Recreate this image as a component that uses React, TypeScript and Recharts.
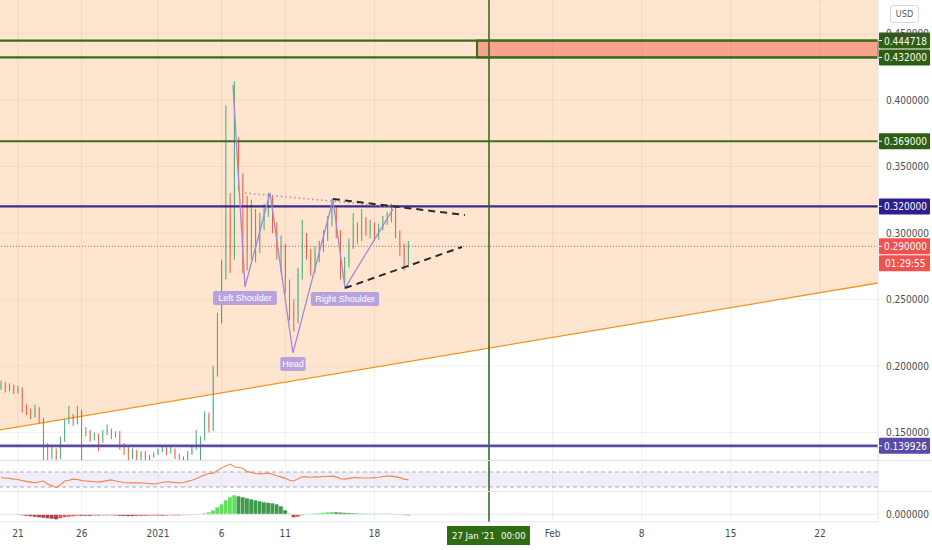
import {
  ComposedChart,
  Bar,
  Line,
  Area,
  XAxis,
  YAxis,
  CartesianGrid,
  ReferenceLine,
  ReferenceArea,
  ReferenceDot,
  Cell,
} from "recharts";

// time axis is in days counted from 21 Dec 2020 00:00, candles are 8h
const CANDLE_START = -4 / 3;
const CANDLE_STEP = 1 / 3;

const opens = [
  0.184, 0.186, 0.183, 0.185, 0.181, 0.183, 0.168, 0.166, 0.163, 0.168,
  0.16, 0.14, 0.133, 0.137, 0.131, 0.145, 0.158, 0.162, 0.158, 0.166,
  0.15, 0.151, 0.146, 0.148, 0.144, 0.15, 0.152, 0.148, 0.15, 0.14,
  0.138, 0.134, 0.136, 0.131, 0.135, 0.131, 0.132, 0.134, 0.137, 0.138,
  0.136, 0.137, 0.133, 0.131, 0.13, 0.134, 0.139, 0.142, 0.146, 0.163,
  0.153, 0.196, 0.235, 0.27, 0.315, 0.285, 0.37, 0.34, 0.322, 0.285,
  0.31, 0.292, 0.31, 0.318, 0.325, 0.305, 0.285, 0.29, 0.262, 0.24,
  0.235, 0.27, 0.295, 0.285, 0.275, 0.285, 0.29, 0.298, 0.31, 0.318,
  0.3, 0.272, 0.278, 0.292, 0.305, 0.298, 0.31, 0.302, 0.306, 0.298,
  0.305, 0.31, 0.312, 0.318, 0.3, 0.29, 0.276,
];
const highs = [
  0.189, 0.188, 0.187, 0.186, 0.185, 0.184, 0.171, 0.168, 0.171, 0.169,
  0.161, 0.142, 0.14, 0.138, 0.147, 0.16, 0.17, 0.164, 0.17, 0.167,
  0.154, 0.152, 0.15, 0.149, 0.152, 0.156, 0.153, 0.151, 0.151, 0.142,
  0.139, 0.138, 0.137, 0.136, 0.136, 0.133, 0.135, 0.138, 0.14, 0.139,
  0.139, 0.138, 0.134, 0.132, 0.136, 0.14, 0.152, 0.147, 0.166, 0.165,
  0.2, 0.24, 0.28, 0.396, 0.33, 0.414, 0.372, 0.345, 0.328, 0.325,
  0.318, 0.315, 0.322, 0.33, 0.328, 0.308, 0.298, 0.292, 0.265, 0.25,
  0.274, 0.31, 0.3, 0.288, 0.29, 0.294, 0.302, 0.313, 0.326, 0.32,
  0.302, 0.282, 0.296, 0.315, 0.308, 0.318, 0.312, 0.31, 0.308, 0.307,
  0.313, 0.316, 0.322, 0.32, 0.302, 0.292, 0.294,
];
const lows = [
  0.182, 0.18, 0.181, 0.179, 0.179, 0.165, 0.163, 0.16, 0.161, 0.157,
  0.128, 0.126, 0.13, 0.126, 0.13, 0.143, 0.156, 0.155, 0.156, 0.128,
  0.147, 0.143, 0.144, 0.136, 0.142, 0.148, 0.145, 0.146, 0.137, 0.133,
  0.129, 0.13, 0.127, 0.129, 0.128, 0.129, 0.131, 0.133, 0.135, 0.133,
  0.134, 0.13, 0.128, 0.127, 0.129, 0.133, 0.137, 0.128, 0.144, 0.15,
  0.151, 0.192, 0.232, 0.265, 0.27, 0.28, 0.332, 0.27, 0.272, 0.28,
  0.278, 0.285, 0.302, 0.312, 0.3, 0.28, 0.27, 0.255, 0.234, 0.226,
  0.232, 0.265, 0.28, 0.268, 0.27, 0.278, 0.286, 0.294, 0.305, 0.296,
  0.265, 0.262, 0.274, 0.288, 0.292, 0.294, 0.298, 0.296, 0.294, 0.295,
  0.302, 0.306, 0.308, 0.296, 0.283, 0.272, 0.274,
];
const closes = [
  0.186, 0.183, 0.185, 0.181, 0.183, 0.168, 0.166, 0.163, 0.168, 0.16,
  0.14, 0.133, 0.137, 0.131, 0.145, 0.158, 0.162, 0.158, 0.166, 0.15,
  0.151, 0.146, 0.148, 0.144, 0.15, 0.152, 0.148, 0.15, 0.14, 0.138,
  0.134, 0.136, 0.131, 0.135, 0.131, 0.132, 0.134, 0.137, 0.138, 0.136,
  0.137, 0.133, 0.131, 0.13, 0.134, 0.139, 0.142, 0.146, 0.163, 0.153,
  0.196, 0.235, 0.27, 0.315, 0.285, 0.37, 0.34, 0.322, 0.285, 0.31,
  0.292, 0.31, 0.318, 0.325, 0.305, 0.285, 0.29, 0.262, 0.24, 0.235,
  0.27, 0.295, 0.285, 0.275, 0.285, 0.29, 0.298, 0.31, 0.318, 0.3,
  0.272, 0.278, 0.292, 0.305, 0.298, 0.31, 0.302, 0.306, 0.298, 0.305,
  0.31, 0.312, 0.318, 0.3, 0.29, 0.276, 0.29,
];
const rsiValues = [
  55, 54, 53, 51, 50, 47, 45, 43, 41, 44,
  46, 38, 33, 28, 36, 46, 48, 51, 50, 47,
  46, 45, 44, 43, 45, 47, 49, 46, 44, 42,
  41, 41, 41, 41, 40, 39, 38, 40, 42, 44,
  43, 42, 41, 42, 45, 48, 52, 57, 62, 66,
  67, 74, 81, 86, 91, 84, 82, 80, 71, 69,
  66, 65, 66, 67, 64, 60, 57, 53, 48, 46,
  52, 57, 57, 56, 57, 57, 58, 58, 59, 57,
  52, 51, 53, 55, 55, 54, 54, 54, 55, 56,
  58, 59, 59, 57, 55, 51, 49,
];
// histogram in thousandths
const histValues = [
  0.2, 0.1, 0, -0.3, -0.6, -1, -1.5, -2, -2.5, -3,
  -3.5, -4, -4.5, -5, -4, -3, -2.5, -2, -1.5, -1.5,
  -1.5, -1.5, -1.2, -1.2, -1, -1, -1, -1.2, -1.5, -1.6,
  -1.8, -1.8, -1.7, -1.6, -1.5, -1.3, -1.2, -1.2, -1.3, -1.2,
  -1, -1, -1, -0.9, -0.8, -0.6, -0.3, 0.3, 1, 2,
  4, 7, 10, 14, 17, 19, 18, 17, 16, 15,
  14, 13, 12, 11.5, 11, 10, 8, 4, 0.5, -3,
  -2.5, -1, 0.3, 0.5, 0.8, 1, 1.5, 2, 2.2, 2,
  1.8, 1.5, 1.2, 1, 0.8, 0.6, 0.5, 0.5, 0.5, 0.5,
  0.6, 0.6, 0.5, 0.3, -0.3, -0.8, -1,
];

const xTicks = [0, 5, 11, 16, 21, 28, 42, 49, 56, 63];
const xTickLabels = ["21", "26", "2021", "6", "11", "18", "Feb", "8", "15", "22"];
const priceTicks = [0.15, 0.2, 0.25, 0.3, 0.35, 0.4, 0.45];

const trendline = [
  { t: -1.414, trend: 0.1519 },
  { t: 67.56, trend: 0.2624 },
];
const headShoulders = [
  { t: 16.89, p: 0.4113 },
  { t: 17.83, p: 0.2594 },
  { t: 19.8, p: 0.3301 },
  { t: 21.6, p: 0.2098 },
  { t: 24.74, p: 0.3248 },
  { t: 25.69, p: 0.2586 },
  { t: 29.46, p: 0.318 },
];
const patternLabels = [
  { t: 17.83, p: 0.2511, text: "Left Shoulder" },
  { t: 21.6, p: 0.2015, text: "Head" },
  { t: 25.69, p: 0.2504, text: "Right Shoulder" },
];

const X_DOMAIN: [number, number] = [-1.414, 67.56];
const PRICE_DOMAIN: [number, number] = [0.1293, 0.4752];
const CROSSHAIR_T = 37;

const UP = "#45a877";
const DOWN = "#ee5a3f";
const GREEN = "#3d6b1e";
const GRID = "rgba(42,46,57,0.07)";
const FONT = "'Liberation Sans Narrow', 'DejaVu Sans Condensed', 'Liberation Sans', sans-serif";

const candles = closes.map((close, i) => ({
  t: CANDLE_START + i * CANDLE_STEP,
  open: opens[i],
  high: highs[i],
  low: lows[i],
  close,
  rsi: rsiValues[i],
  hist: histValues[i] / 1000,
}));

function Candle(props: any) {
  const { x, y, width, height, payload } = props;
  if (!payload) return null;
  const { open, close, high, low } = payload;
  const color = close >= open ? UP : DOWN;
  const h = Math.abs(height);
  const top = height < 0 ? y + height : y;
  const ratio = h / (high - low || 1);
  const bodyTop = top + (high - Math.max(open, close)) * ratio;
  const bodyH = Math.max(1, Math.abs(open - close) * ratio);
  const cx = x + width / 2;
  return (
    <g>
      <line x1={cx} x2={cx} y1={top} y2={top + h} stroke={color} strokeWidth={1} />
      <rect x={x} y={bodyTop} width={width} height={bodyH} fill={color} />
    </g>
  );
}

function axisTag(text: string, fill: string, below?: { text: string; fill: string }) {
  return {
    content: (props: any) => {
      const vb = props.viewBox || {};
      const x = (vb.x ?? 0) + (vb.width ?? 0);
      const y = vb.y ?? 0;
      return (
        <g>
          <rect x={x + 1} y={y - 8} width={51} height={16} fill={fill} rx={1} />
          <line x1={x + 1} x2={x + 4} y1={y} y2={y} stroke="#fff" />
          <text x={x + 6} y={y + 4} fill="#fff" fontSize={10}>
            {text}
          </text>
          {below && (
            <g>
              <rect x={x + 1} y={y + 9} width={51} height={16} fill={below.fill} rx={1} />
              <text x={x + 7} y={y + 21} fill="#fff" fontSize={10}>
                {below.text}
              </text>
            </g>
          )}
        </g>
      );
    },
  };
}

function PatternLabel({ cx, cy, text }: any) {
  const w = text.length * 4.3 + 8;
  return (
    <g>
      <rect x={cx - w / 2} y={cy - 7} width={w} height={14} rx={2} fill="#b7a2dd" />
      <text x={cx} y={cy + 3} textAnchor="middle" fill="#fff" fontSize={9} fontFamily="'Liberation Sans', sans-serif">
        {text}
      </text>
    </g>
  );
}

function CrosshairTag(props: any) {
  const vb = props.viewBox || {};
  const x = vb.x ?? 0;
  const y = (vb.y ?? 0) + (vb.height ?? 0);
  return (
    <g>
      <rect x={x - 42} y={y + 4} width={83} height={19} fill="#2f6b12" />
      <text x={x - 37} y={y + 17} fill="#fff" fontSize={9.5}>
        27 Jan '21
      </text>
      <text x={x + 12} y={y + 17} fill="#fff" fontSize={9.5}>
        00:00
      </text>
    </g>
  );
}

function gridVerticals() {
  return xTicks.map((t) => <ReferenceLine key={`g${t}`} x={t} stroke={GRID} strokeWidth={1} />);
}

const histColors = histValues.map((v, i) => {
  const prev = i > 0 ? histValues[i - 1] : v;
  if (v >= 0) return v >= prev ? "#5fe35f" : "#3f9a4c";
  return v <= prev ? "#a9424c" : "#f3554d";
});

export default function App() {
  return (
    <div
      style={{
        position: "absolute",
        left: 0,
        top: 0,
        width: 932,
        height: 550,
        background: "#fff",
        fontFamily: FONT,
        overflow: "hidden",
      }}
    >
      <ComposedChart width={932} height={460} data={candles} margin={{ top: 0, right: 0, bottom: 0, left: 0 }}>
        <CartesianGrid vertical={false} stroke={GRID} />
        <XAxis dataKey="t" type="number" domain={X_DOMAIN} allowDataOverflow hide />
        <YAxis
          orientation="right"
          width={54}
          type="number"
          domain={PRICE_DOMAIN}
          allowDataOverflow
          ticks={priceTicks}
          tickFormatter={(v: number) => v.toFixed(6)}
          tick={{ fill: "#4a4a4a", fontSize: 10 }}
          tickLine={false}
          axisLine={{ stroke: "#e0e3eb" }}
        />
        <Area
          data={trendline}
          dataKey="trend"
          type="linear"
          baseValue={PRICE_DOMAIN[1]}
          stroke="#f5931f"
          strokeWidth={1.3}
          fill="#fbbf86"
          fillOpacity={0.4}
          isAnimationActive={false}
          dot={false}
          activeDot={false}
        />
        {gridVerticals()}
        <ReferenceArea
          x1={36.06}
          x2={X_DOMAIN[1]}
          y1={0.432}
          y2={0.444718}
          fill="#f9a28d"
          fillOpacity={1}
          stroke={GREEN}
          strokeWidth={2}
        />
        <ReferenceLine y={0.444718} stroke={GREEN} strokeWidth={2.2} label={axisTag("0.444718", "#2d5e12")} />
        <ReferenceLine y={0.432} stroke={GREEN} strokeWidth={2.2} label={axisTag("0.432000", "#2d5e12")} />
        <ReferenceLine y={0.369} stroke={GREEN} strokeWidth={2.2} label={axisTag("0.369000", "#2d5e12")} />
        <ReferenceLine y={0.32} stroke="#3a2a8e" strokeWidth={2.2} label={axisTag("0.320000", "#2e1f8c")} />
        <ReferenceLine y={0.139926} stroke="#5b4aa8" strokeWidth={2.6} label={axisTag("0.139926", "#5b4aa8")} />
        <ReferenceLine
          y={0.29}
          stroke="#ef5350"
          strokeDasharray="1 2"
          strokeWidth={1}
          label={axisTag("0.290000", "#ef5350", { text: "01:29:55", fill: "#ef5350" })}
        />
        <ReferenceLine x={CROSSHAIR_T} stroke={GREEN} strokeWidth={1.6} />
        <Bar
          dataKey={(d: any) => [d.low, d.high]}
          barSize={3.2}
          shape={(p: any) => <Candle {...p} />}
          isAnimationActive={false}
        />
        <ReferenceLine
          segment={[
            { x: 17.83, y: 0.3301 },
            { x: 29.62, y: 0.3195 },
          ]}
          stroke="#b58bc4"
          strokeDasharray="1.5 3"
          strokeWidth={1.6}
        />
        <Line
          data={headShoulders}
          dataKey="p"
          type="linear"
          stroke="#a08ad8"
          strokeWidth={1.3}
          dot={false}
          activeDot={false}
          isAnimationActive={false}
        />
        <ReferenceLine
          segment={[
            { x: 24.74, y: 0.3256 },
            { x: 35.11, y: 0.3135 },
          ]}
          stroke="#2a2a2a"
          strokeDasharray="7 5"
          strokeWidth={2}
        />
        <ReferenceLine
          segment={[
            { x: 25.69, y: 0.2586 },
            { x: 34.88, y: 0.2895 },
          ]}
          stroke="#2a2a2a"
          strokeDasharray="7 5"
          strokeWidth={2}
        />
        {patternLabels.map((l) => (
          <ReferenceDot
            key={l.text}
            x={l.t}
            y={l.p}
            r={0}
            shape={(p: any) => <PatternLabel cx={p.cx} cy={p.cy} text={l.text} />}
          />
        ))}
      </ComposedChart>
      <div style={{ height: 1, background: "#e0e3eb" }} />
      <ComposedChart width={932} height={30} data={candles} margin={{ top: 0, right: 0, bottom: 0, left: 0 }}>
        <XAxis dataKey="t" type="number" domain={X_DOMAIN} allowDataOverflow hide />
        <YAxis
          orientation="right"
          width={54}
          type="number"
          domain={[19.3, 99.3]}
          allowDataOverflow
          tick={false}
          tickLine={false}
          axisLine={{ stroke: "#e0e3eb" }}
        />
        <ReferenceArea y1={30} y2={70} fill="#7e57c2" fillOpacity={0.1} stroke="none" />
        <ReferenceLine y={70} stroke="#a9a9bb" strokeDasharray="4 3" />
        <ReferenceLine y={30} stroke="#a9a9bb" strokeDasharray="4 3" />
        {gridVerticals()}
        <ReferenceLine x={CROSSHAIR_T} stroke={GREEN} strokeWidth={1.6} />
        <Line
          dataKey="rsi"
          type="linear"
          stroke="#f2864a"
          strokeWidth={1.1}
          dot={false}
          activeDot={false}
          isAnimationActive={false}
        />
      </ComposedChart>
      <div style={{ height: 1, background: "#e0e3eb" }} />
      <ComposedChart width={932} height={58} data={candles} margin={{ top: 0, right: 0, bottom: 0, left: 0 }}>
        <XAxis
          dataKey="t"
          type="number"
          domain={X_DOMAIN}
          allowDataOverflow
          ticks={xTicks}
          tickFormatter={(v: number) => xTickLabels[xTicks.indexOf(v)] ?? ""}
          tick={{ fill: "#4a4a4a", fontSize: 10 }}
          tickLine={false}
          axisLine={{ stroke: "#e0e3eb" }}
          height={28}
        />
        <YAxis
          orientation="right"
          width={54}
          type="number"
          domain={[-0.0077, 0.0223]}
          allowDataOverflow
          ticks={[0]}
          tickFormatter={(v: number) => v.toFixed(6)}
          tick={{ fill: "#4a4a4a", fontSize: 10 }}
          tickLine={false}
          axisLine={{ stroke: "#e0e3eb" }}
        />
        <ReferenceLine y={0} stroke="#e6e8ee" />
        {gridVerticals()}
        <Bar dataKey="hist" barSize={4.3} isAnimationActive={false}>
          {candles.map((c, i) => (
            <Cell key={c.t} fill={histColors[i]} />
          ))}
        </Bar>
        <ReferenceLine x={CROSSHAIR_T} stroke={GREEN} strokeWidth={1.6} label={{ content: (p: any) => <CrosshairTag {...p} /> }} />
      </ComposedChart>
      <div
        style={{
          position: "absolute",
          left: 890,
          top: 5,
          width: 27,
          height: 16,
          border: "1px solid #d6d8de",
          borderRadius: 3,
          background: "#fff",
          fontSize: 9,
          color: "#555",
          textAlign: "center",
          lineHeight: "16px",
        }}
      >
        USD
      </div>
    </div>
  );
}
